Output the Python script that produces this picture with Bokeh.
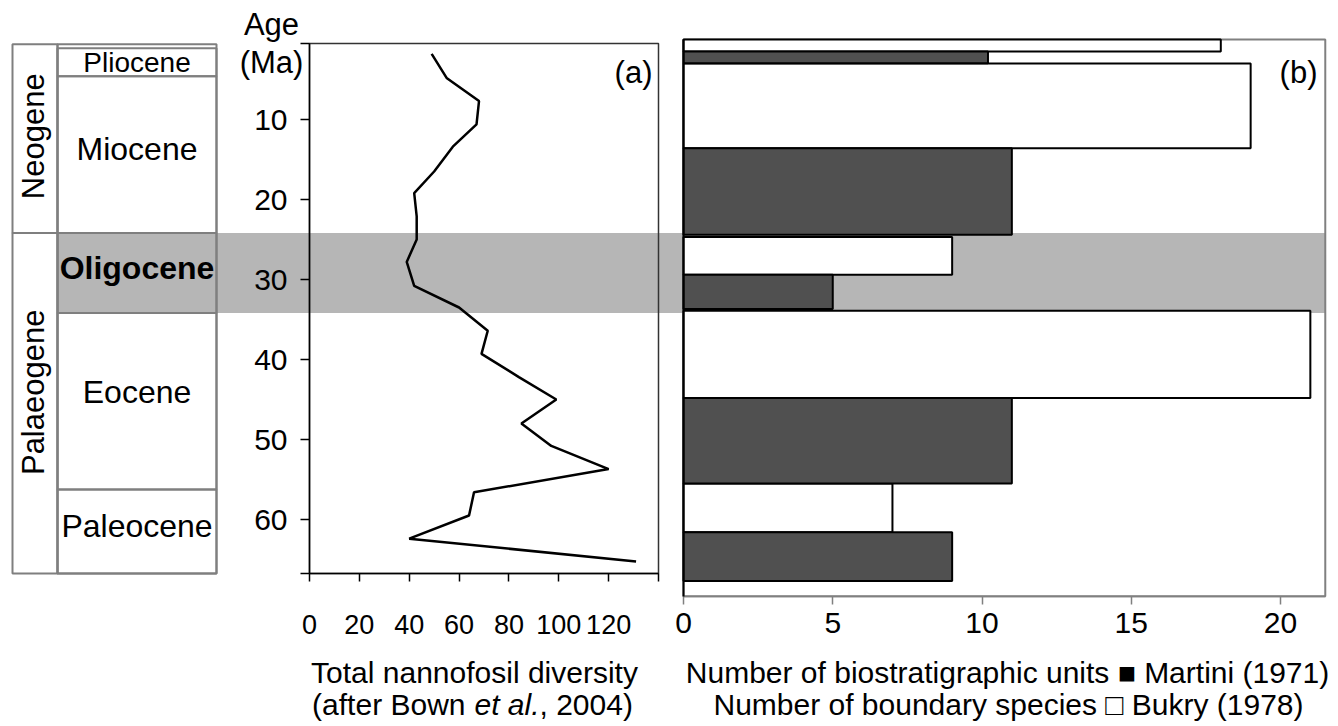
import math
from bokeh.plotting import figure
from bokeh.models import Range1d, LinearAxis, FixedTicker
from bokeh.core.properties import value
from bokeh.embed import file_html
from bokeh.resources import INLINE

# ---------------- data ----------------
# Panel (a): total nannofossil diversity (after Bown et al., 2004), age in Ma
div_age = [1.8, 4.8, 7.7, 10.6, 13.4, 16.5, 19.2, 22.1, 25.0, 27.8, 30.8, 33.5,
           36.4, 39.3, 42.2, 45.0, 48.0, 50.8, 53.7, 56.6, 59.5, 62.4, 65.25]
div_value = [49, 55, 68, 67, 57.5, 50, 42, 43, 43, 39, 42, 60,
             71.5, 69, 84, 99, 85, 97, 120, 66, 64, 40, 131]

# Panel (b): counts per epoch
epochs = ["Pliocene", "Miocene", "Oligocene", "Eocene", "Paleocene"]
bukry_species = [18, 19, 9, 21, 7]          # Bukry (1978), boundary species
martini_units = [10.2, 11, 5, 11, 9]        # Martini (1971), biostratigraphic units
bukry_top = [0.0, 3.0, 24.7, 33.9, 55.5]
bukry_base = [1.5, 13.6, 29.4, 44.8, 61.6]
martini_top = [1.5, 13.6, 29.4, 44.8, 61.6]
martini_base = [2.96, 24.4, 33.7, 55.5, 67.7]

# Stratigraphic column (Ma)
column_top = 0.6
epoch_top = [1.1, 4.6, 24.2, 34.2, 56.25]
epoch_base = [4.6, 24.2, 34.2, 56.25, 66.75]
epoch_label_age = [2.9, 13.7, 28.6, 44.1, 60.75]
periods = ["Neogene", "Palaeogene"]
period_top = [0.6, 24.2]
period_base = [24.2, 66.75]
period_label_age = [12.1, 44.1]
oligocene_band = [24.2, 34.2]

age_ticks = [10, 20, 30, 40, 50, 60]
diversity_ticks = [0, 20, 40, 60, 80, 100, 120, 140]
count_ticks = [0, 5, 10, 15, 20]

# ---------------- layout ----------------
W, H = 1338, 726
AGE0_PX, PX_PER_MA = 39.0, 8.0
A_LEFT, A_RIGHT, A_MAX = 309.0, 658.0, 140.0
B_LEFT, B_TICK20 = 683.0, 1280.0
B_MAX = 21.5
A_TOP_AGE, A_BOT_AGE = 0.5, 66.75
B_TOP_AGE, B_BOT_AGE = 0.0, 69.6

ka = A_MAX / (A_RIGHT - A_LEFT)
kb = 20.0 / (B_TICK20 - B_LEFT)

p = figure(width=W, height=H, output_backend="svg", toolbar_location=None,
           x_axis_type=None, y_axis_type=None, min_border=0,
           x_range=Range1d(0, W),
           y_range=Range1d((H - AGE0_PX) / PX_PER_MA, -AGE0_PX / PX_PER_MA))
p.outline_line_color = None
p.background_fill_color = "white"
p.border_fill_color = "white"
p.extra_x_ranges = {
    "div": Range1d(-A_LEFT * ka, (W - A_LEFT) * ka),
    "cnt": Range1d(-B_LEFT * kb, (W - B_LEFT) * kb),
}
p.extra_y_ranges = {"px": Range1d(H, 0)}

FONT = value("Liberation Sans")
GRID_GREY = "#7f7f7f"

# Oligocene band
band_right_px = B_LEFT + B_MAX / kb
p.quad(left=57, right=band_right_px, top=oligocene_band[0], bottom=oligocene_band[1],
       fill_color="#b6b6b6", line_color=None)

# Stratigraphic column
p.quad(left=12, right=57, top=period_top, bottom=period_base,
       fill_color=None, line_color=GRID_GREY, line_width=2)
p.quad(left=57, right=216, top=column_top, bottom=epoch_base[-1],
       fill_color=None, line_color=GRID_GREY, line_width=2)
p.quad(left=57, right=216, top=epoch_top, bottom=epoch_base,
       fill_color=None, line_color=GRID_GREY, line_width=2)

for name, age in zip(epochs, epoch_label_age):
    size = "28px" if name == "Pliocene" else "32px"
    style = "bold" if name == "Oligocene" else "normal"
    p.text(x=[136.5], y=[age], text=[name], text_font=FONT, text_font_size=value(size),
           text_font_style=value(style), text_align="center", text_baseline="middle",
           text_color="black")
p.text(x=[33, 33], y=period_label_age, text=periods, angle=math.pi / 2,
       text_font=FONT, text_font_size=value("31px"), text_align="center",
       text_baseline="middle", text_color="black")

# Panel frames
p.quad(left=0, right=A_MAX, top=A_TOP_AGE, bottom=A_BOT_AGE, x_range_name="div",
       fill_color=None, line_color="#333333", line_width=1.5)
p.quad(left=0, right=B_MAX, top=B_TOP_AGE, bottom=B_BOT_AGE, x_range_name="cnt",
       fill_color=None, line_color="#808080", line_width=2)

# Panel (a) line
p.line(x=div_value, y=div_age, x_range_name="div", line_color="black", line_width=2.5)

# Panel (b) bars
p.quad(left=0, right=bukry_species, top=bukry_top, bottom=bukry_base, x_range_name="cnt",
       fill_color="white", line_color="black", line_width=2)
p.quad(left=0, right=martini_units, top=martini_top, bottom=martini_base, x_range_name="cnt",
       fill_color="#505050", line_color="black", line_width=2)

# Axes
def style_axis(ax, size="30px", color="black"):
    ax.major_label_text_font = "Liberation Sans"
    ax.major_label_text_font_size = size
    ax.major_label_text_color = "black"
    ax.axis_line_color = color
    ax.axis_line_width = 1.5
    ax.major_tick_line_color = color
    ax.major_tick_line_width = 1.5
    ax.major_tick_in = 0
    ax.major_tick_out = 8
    ax.minor_tick_in = 0
    ax.minor_tick_out = 0

age_axis = LinearAxis(x_range_name="div", fixed_location=0,
                      ticker=FixedTicker(ticks=[A_TOP_AGE] + age_ticks + [A_BOT_AGE]),
                      major_label_overrides={A_TOP_AGE: "", A_BOT_AGE: ""},
                      bounds=(A_TOP_AGE, A_BOT_AGE))
style_axis(age_axis)
age_axis.major_tick_out = 9
age_axis.major_label_standoff = 13
p.add_layout(age_axis, "left")

div_axis = LinearAxis(x_range_name="div", fixed_location=A_BOT_AGE,
                      ticker=FixedTicker(ticks=diversity_ticks),
                      major_label_overrides={140: ""}, bounds=(0, A_MAX))
style_axis(div_axis, size="27px")
div_axis.major_label_standoff = 33
p.add_layout(div_axis, "below")

cnt_axis = LinearAxis(x_range_name="cnt", fixed_location=B_BOT_AGE,
                      ticker=FixedTicker(ticks=count_ticks), bounds=(0, B_MAX))
style_axis(cnt_axis, color="#808080")
cnt_axis.major_label_standoff = 9
p.add_layout(cnt_axis, "below")

cnt_left = LinearAxis(x_range_name="cnt", fixed_location=0,
                      ticker=FixedTicker(ticks=[]), bounds=(B_TOP_AGE, B_BOT_AGE))
style_axis(cnt_left)
cnt_left.axis_line_width = 2
p.add_layout(cnt_left, "left")

# Layout texts (pixel y range)
def txt(x, y, s, align="center", style="normal", size="30px"):
    p.text(x=[x], y=[y], text=[s], y_range_name="px", text_font=FONT,
           text_font_size=value(size), text_font_style=value(style),
           text_align=align, text_baseline="middle", text_color="black")

txt(271, 24, "Age", size="31px")
txt(271, 62, "(Ma)", size="31px")
txt(652, 72, "(a)", align="right", size="31px")
txt(1317, 72, "(b)", align="right", size="31px")

txt(474, 672, "Total nannofosil diversity")
txt(465, 704, "(after Bown", align="right")
txt(474, 704, "et al.", align="left", style="italic")
txt(539, 704, ", 2004)", align="left")

txt(1007, 672, "Number of biostratigraphic units \u25A0 Martini (1971)")
txt(1008, 704, "Number of boundary species \u25A1 Bukry (1978)")

open("out.html", "w").write(file_html(p, INLINE))
